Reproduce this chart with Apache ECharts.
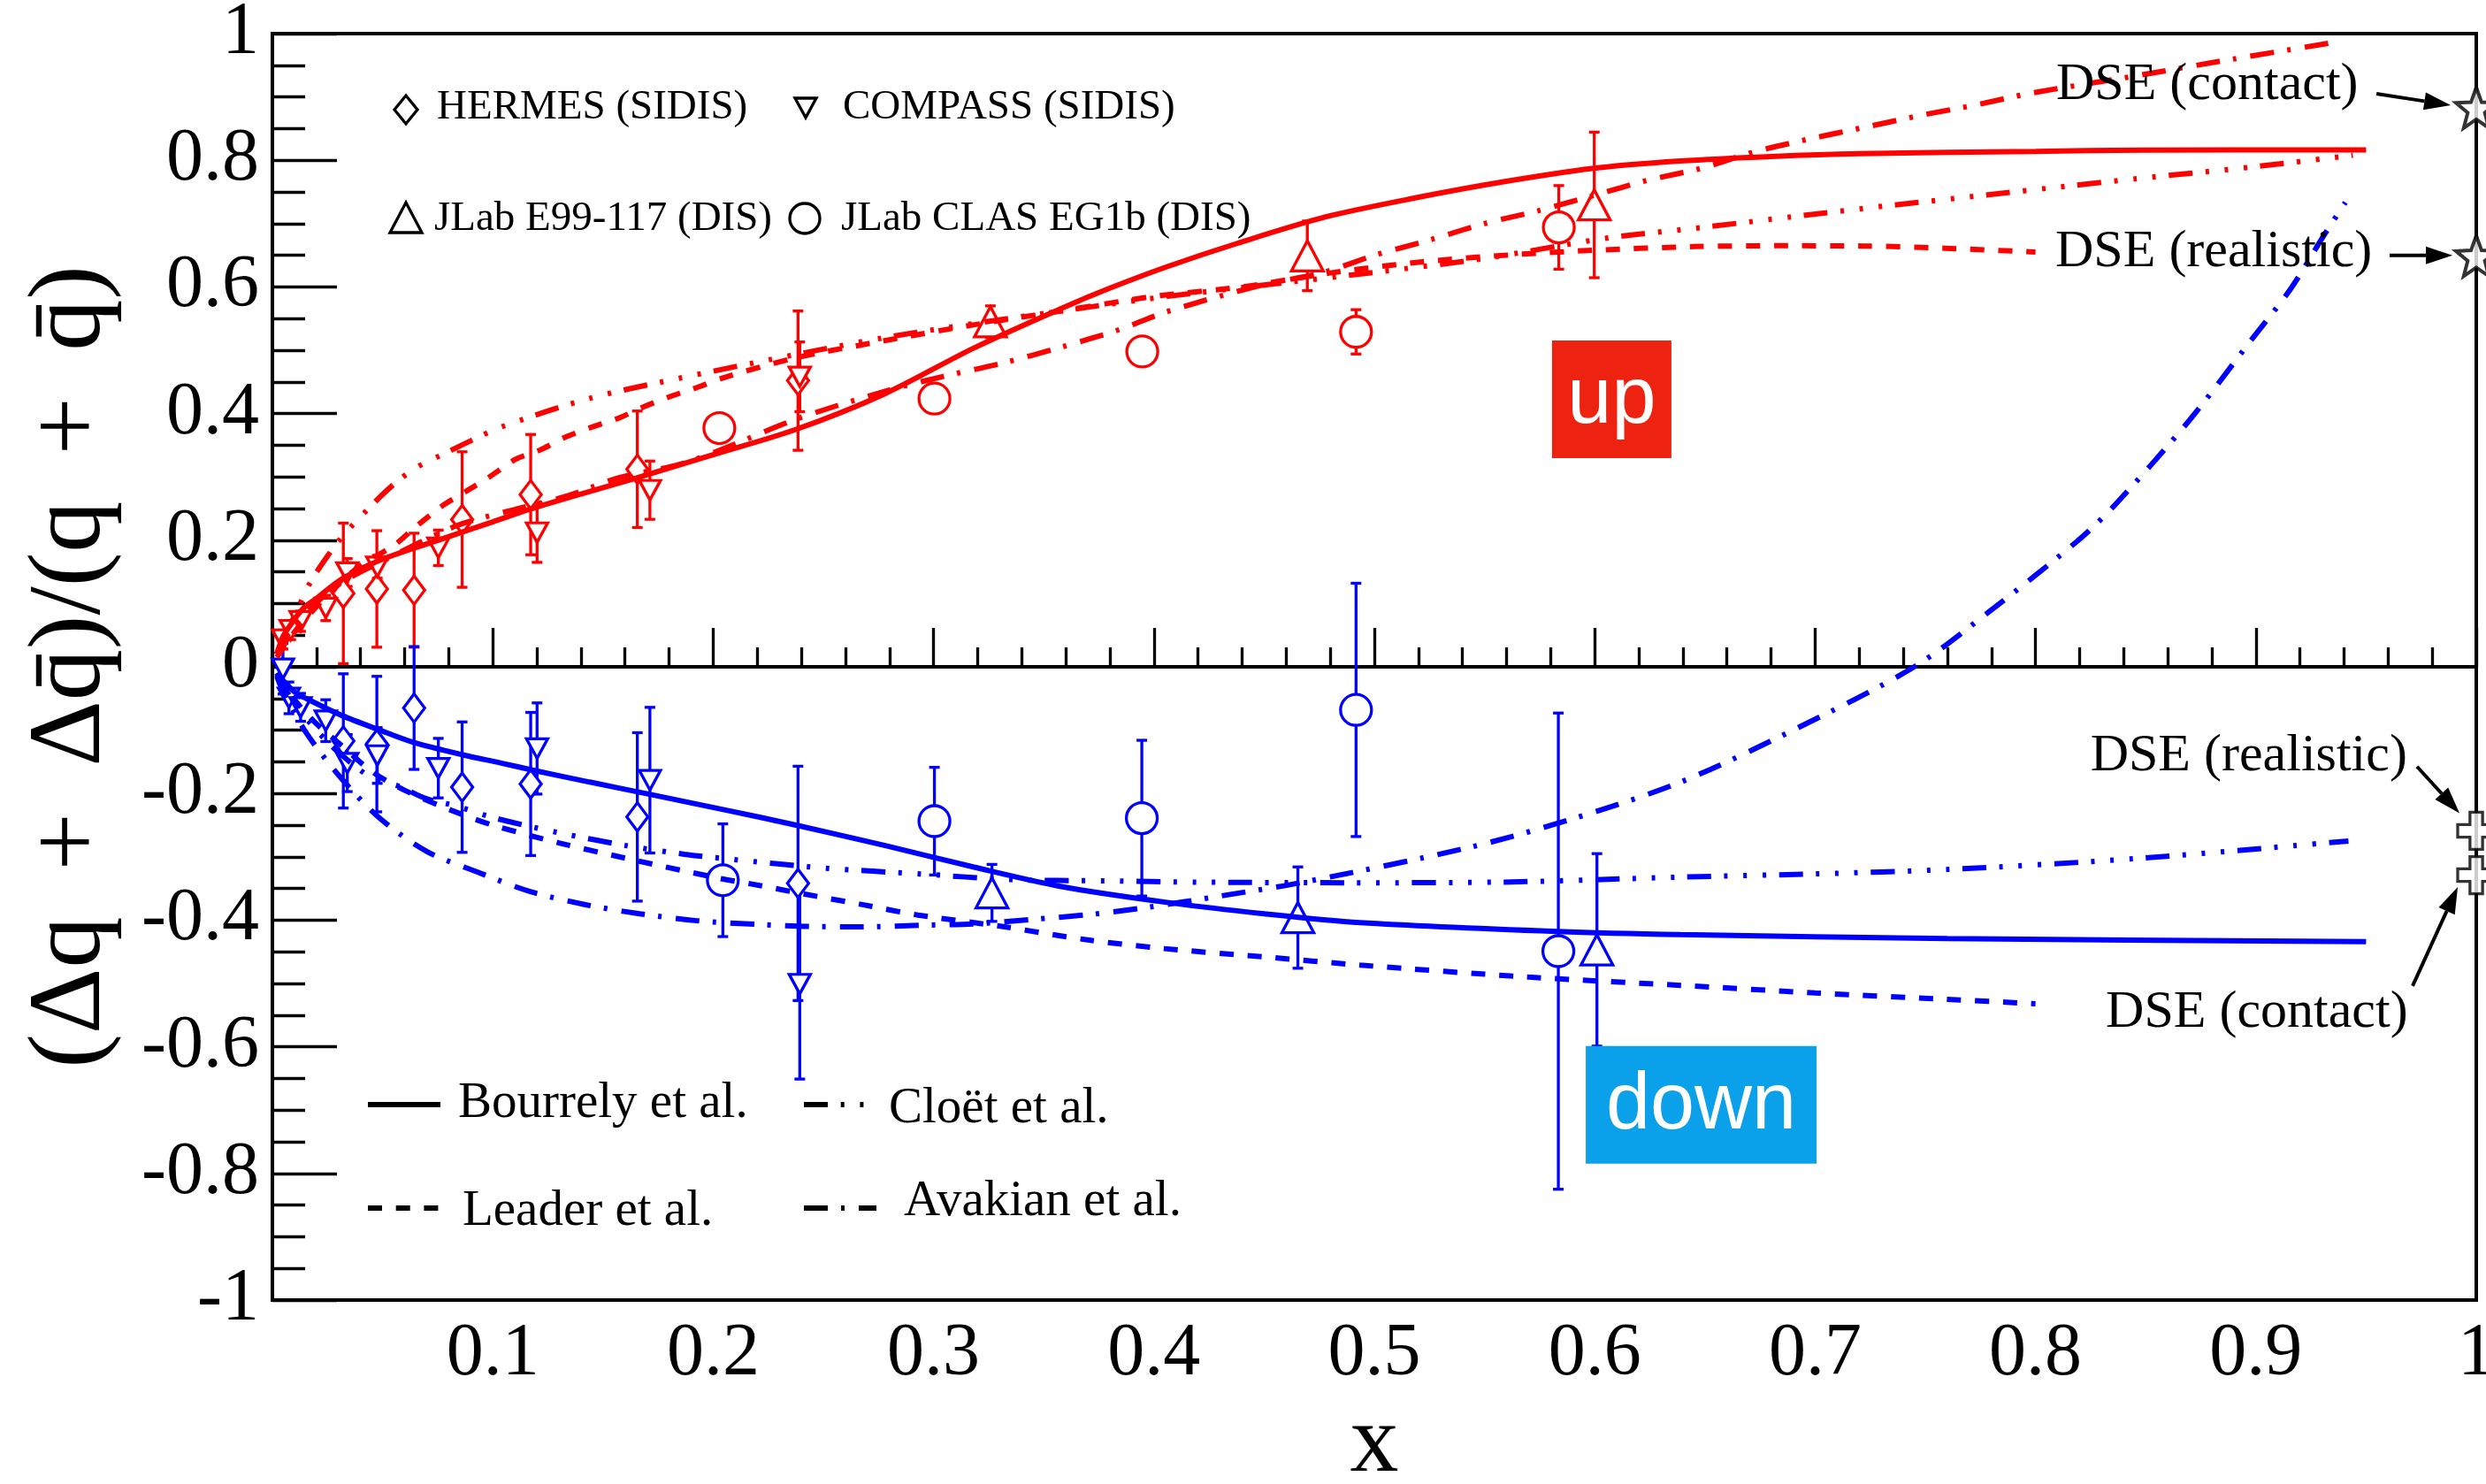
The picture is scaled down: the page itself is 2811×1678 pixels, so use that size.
<!DOCTYPE html>
<html>
<head>
<meta charset="utf-8">
<script src="https://cdn.jsdelivr.net/npm/echarts@6/dist/echarts.min.js"></script>
<style>
  html, body { margin: 0; padding: 0; background: #ffffff; }
  #chart { width: 2811px; height: 1678px; }
</style>
</head>
<body>
<div id="chart"></div>
<script>
// ---- Model curves: [x, (Δq+Δq̄)/(q+q̄)] ----
const bourrelyUp = [[0.002,0.02],[0.005,0.049],[0.01,0.075],[0.0142,0.093],[0.02,0.108],[0.0316,0.139],[0.05,0.17],[0.077,0.202],[0.1,0.229],[0.117,0.249],[0.14,0.273],[0.165,0.298],[0.2,0.335],[0.2376,0.375],[0.2777,0.431],[0.318,0.503],[0.358,0.566],[0.38,0.598],[0.406,0.632],[0.438,0.669],[0.478,0.7106],[0.5185,0.7405],[0.5586,0.766],[0.5987,0.787],[0.6388,0.7988],[0.68,0.806],[0.72,0.8104],[0.8,0.814],[0.8475,0.816],[0.95,0.8165]];
const cloetUp = [[0.002,0.02],[0.005,0.045],[0.01,0.08],[0.017,0.132],[0.025,0.175],[0.032,0.207],[0.045,0.255],[0.055,0.288],[0.065,0.314],[0.08,0.34],[0.09,0.357],[0.104,0.379],[0.144,0.424],[0.185,0.456],[0.24,0.495],[0.278,0.52],[0.318,0.542],[0.358,0.562],[0.406,0.585],[0.45,0.603],[0.5,0.623],[0.55,0.645],[0.6054,0.677],[0.6515,0.695],[0.69,0.711],[0.7325,0.728],[0.7746,0.744],[0.8167,0.76],[0.846,0.771],[0.9,0.79],[0.944,0.808]];
const leaderUp = [[0.002,0.015],[0.005,0.03],[0.01,0.055],[0.02,0.095],[0.03,0.13],[0.04,0.16],[0.0556,0.193],[0.065,0.221],[0.077,0.254],[0.0878,0.277],[0.0985,0.3],[0.1105,0.328],[0.1212,0.342],[0.1332,0.363],[0.1453,0.379],[0.1573,0.393],[0.168,0.41],[0.1814,0.428],[0.1934,0.442],[0.2041,0.456],[0.2376,0.488],[0.2777,0.515],[0.318,0.54],[0.358,0.562],[0.4,0.585],[0.44,0.6],[0.48,0.622],[0.52,0.639],[0.5619,0.6506],[0.6007,0.658],[0.645,0.6636],[0.683,0.665],[0.7217,0.6646],[0.759,0.661],[0.8,0.655]];
const avakianUp = [[0.002,0.02],[0.005,0.04],[0.01,0.065],[0.015,0.085],[0.03,0.13],[0.05,0.167],[0.0837,0.223],[0.1078,0.2466],[0.1339,0.27],[0.1573,0.2987],[0.184,0.319],[0.2014,0.34],[0.2376,0.391],[0.2777,0.435],[0.3044,0.4586],[0.3312,0.4795],[0.358,0.505],[0.3847,0.533],[0.406,0.561],[0.449,0.603],[0.4757,0.6217],[0.501,0.651],[0.525,0.674],[0.55,0.7],[0.5746,0.7205],[0.5994,0.7443],[0.6241,0.7685],[0.648,0.787],[0.672,0.8128],[0.6976,0.8338],[0.723,0.8524],[0.748,0.871],[0.7724,0.887],[0.798,0.906],[0.84,0.93],[0.89,0.96],[0.937,0.987]];

const bourrelyDown = [[0.002,-0.01],[0.005,-0.022],[0.0102,-0.04],[0.02,-0.058],[0.0316,-0.077],[0.048,-0.099],[0.0637,-0.119],[0.0863,-0.139],[0.1038,-0.152],[0.118,-0.163],[0.144,-0.182],[0.1707,-0.201],[0.2055,-0.226],[0.2376,-0.25],[0.2777,-0.282],[0.318,-0.316],[0.358,-0.347],[0.406,-0.372],[0.45,-0.39],[0.4935,-0.404],[0.583,-0.418],[0.639,-0.423],[0.76,-0.429],[0.95,-0.434]];
const cloetDown = [[0.002,-0.012],[0.005,-0.03],[0.01,-0.058],[0.02,-0.1],[0.03,-0.135],[0.045,-0.175],[0.0577,-0.189],[0.0696,-0.208],[0.0836,-0.22],[0.1,-0.238],[0.13,-0.262],[0.16,-0.282],[0.187,-0.296],[0.2055,-0.303],[0.251,-0.318],[0.294,-0.327],[0.335,-0.336],[0.378,-0.338],[0.42,-0.34],[0.49,-0.341],[0.557,-0.34],[0.64,-0.332],[0.7,-0.327],[0.76,-0.32],[0.845,-0.303],[0.942,-0.275]];
const leaderDown = [[0.002,-0.01],[0.005,-0.028],[0.01,-0.052],[0.02,-0.09],[0.03,-0.12],[0.045,-0.165],[0.06,-0.195],[0.08,-0.225],[0.1,-0.25],[0.13,-0.278],[0.16,-0.302],[0.2028,-0.334],[0.2175,-0.343],[0.2416,-0.359],[0.2677,-0.3755],[0.293,-0.392],[0.331,-0.41],[0.3686,-0.4306],[0.4048,-0.445],[0.45,-0.458],[0.4935,-0.471],[0.57,-0.49],[0.639,-0.503],[0.7,-0.515],[0.759,-0.525],[0.8,-0.532]];
const avakianDown = [[0.002,-0.015],[0.005,-0.04],[0.0155,-0.105],[0.031,-0.175],[0.049,-0.24],[0.0703,-0.292],[0.093,-0.324],[0.117,-0.355],[0.1426,-0.376],[0.1667,-0.39],[0.1927,-0.401],[0.222,-0.407],[0.244,-0.41],[0.268,-0.4105],[0.295,-0.408],[0.318,-0.406],[0.3446,-0.399],[0.3714,-0.391],[0.3967,-0.38],[0.43,-0.362],[0.468,-0.34],[0.5445,-0.284],[0.59,-0.24],[0.639,-0.182],[0.69,-0.1],[0.745,0.0],[0.78,0.09],[0.8188,0.198],[0.8355,0.2536],[0.87,0.39],[0.897,0.512],[0.9156,0.596],[0.931,0.682],[0.9406,0.7335]];

// ---- Measurements: [x, value, uncertainty] ----
const hermesUp = [[0.0322,0.116,0.111],[0.0474,0.123,0.092],[0.0643,0.121,0.09],[0.0861,0.2326,0.107],[0.1172,0.272,0.095],[0.1656,0.312,0.092],[0.2385,0.452,0.11]];
const hermesDown = [[0.0322,-0.117,0.106],[0.0474,-0.122,0.107],[0.0643,-0.065,0.097],[0.0861,-0.19,0.103],[0.1172,-0.185,0.113],[0.1656,-0.237,0.133],[0.2385,-0.342,0.185]];
const compassUp = [[0.0048,0.043,0.015],[0.0083,0.058,0.015],[0.0128,0.072,0.016],[0.0242,0.093,0.02],[0.034,0.149,0.022],[0.0476,0.158,0.018],[0.0753,0.188,0.028],[0.1201,0.212,0.047],[0.1713,0.279,0.046],[0.2393,0.458,0.055]];
const compassDown = [[0.0048,-0.003,0.04],[0.0075,-0.049,0.025],[0.0128,-0.064,0.022],[0.0242,-0.085,0.033],[0.034,-0.152,0.045],[0.0476,-0.14,0.044],[0.0753,-0.16,0.047],[0.1201,-0.129,0.072],[0.1713,-0.179,0.115],[0.2393,-0.501,0.15]];
const e99Up = [[0.3258,0.545,0.025],[0.4696,0.649,0.055],[0.5998,0.7295,0.115]];
const e99Down = [[0.3265,-0.357,0.045],[0.4653,-0.396,0.08],[0.601,-0.447,0.152]];
const clasUp = [[0.2028,0.377,0.015],[0.3004,0.4236,0.015],[0.3947,0.498,0.015],[0.4917,0.529,0.035],[0.5837,0.694,0.066]];
const clasDown = [[0.2044,-0.337,0.089],[0.3004,-0.2437,0.085],[0.3945,-0.239,0.123],[0.4917,-0.068,0.2],[0.5835,-0.449,0.376]];

// DSE predictions at x = 1
const dseUp = [[1, 0.883], [1, 0.649]];     // contact, realistic
const dseDown = [[1, -0.259], [1, -0.329]]; // realistic, contact

// Axis ranges and tick steps
const xRange = [0, 1], xStep = 0.1;
const yRange = [-1, 1], yStep = 0.2;

// Annotation anchors (data units)
const dseNotes = [
  { text: 'DSE (contact)',   at: [0.8094, 0.9185],  from: [0.9547, 0.905],  to: [0.9884, 0.887] },
  { text: 'DSE (realistic)', at: [0.809, 0.6553],   from: [0.9607, 0.6497], to: [0.9892, 0.6497] },
  { text: 'DSE (realistic)', at: [0.8249, -0.1418], from: [0.9731, -0.1575], to: [0.9924, -0.231] },
  { text: 'DSE (contact)',   at: [0.8319, -0.5469], from: [0.9711, -0.504], to: [0.9916, -0.3476] }
];
const flavourTags = [
  { text: 'up',   at: [0.6077, 0.4225],  w: 135, h: 133, color: '#ee2211' },
  { text: 'down', at: [0.6483, -0.6917], w: 261, h: 133, color: '#0aa0ea' }
];

// ---- Styling ----
const RED = '#ff0000', BLUE = '#0000ff', BLACK = '#000000';
const SERIF = '"Liberation Serif", "Times New Roman", "DejaVu Serif", serif';
const SANS = '"Liberation Sans", Arial, Helvetica, sans-serif';
const DASH = {
  bourrely: 'solid',
  cloet: [27, 14.7, 4, 17.7, 4, 17.7, 4, 14.7],
  leader: [16, 15.7],
  avakian: [27, 15, 4, 16]
};
const LW = 6, MARK_LW = 3.3;

function curve(data, color, dash) {
  return {
    type: 'line', data, showSymbol: false, smooth: 0.3, z: 5, silent: true,
    lineStyle: { color, width: LW, type: dash, cap: 'butt' }
  };
}
function errorBars(data, color) {
  return {
    type: 'custom', data, z: 2, silent: true, encode: { x: 0, y: 1 },
    renderItem(params, api) {
      const x = api.value(0), y = api.value(1), e = api.value(2);
      const a = api.coord([x, y + e]), b = api.coord([x, y - e]);
      const hw = 6, st = { stroke: color, lineWidth: MARK_LW };
      return {
        type: 'group', children: [
          { type: 'line', shape: { x1: a[0], y1: a[1], x2: b[0], y2: b[1] }, style: st },
          { type: 'line', shape: { x1: a[0] - hw, y1: a[1], x2: a[0] + hw, y2: a[1] }, style: st },
          { type: 'line', shape: { x1: b[0] - hw, y1: b[1], x2: b[0] + hw, y2: b[1] }, style: st }
        ]
      };
    }
  };
}
function markers(data, color, symbol, size, rotate) {
  return {
    type: 'scatter', data: data.map(d => [d[0], d[1]]), symbol, symbolSize: size,
    symbolRotate: rotate || 0, z: 3, silent: true, clip: false,
    itemStyle: { color: '#ffffff', borderColor: color, borderWidth: MARK_LW, opacity: 1 }
  };
}

// star and outlined-plus outlines
function starPath() {
  const pts = [];
  for (let k = 0; k < 10; k++) {
    const r = k % 2 === 0 ? 50 : 21;
    const ang = -Math.PI / 2 + k * Math.PI / 5;
    pts.push((50 + r * Math.cos(ang)).toFixed(2) + ',' + (50 + r * Math.sin(ang)).toFixed(2));
  }
  return 'path://M' + pts.join(' L') + ' Z';
}
const PLUS = 'path://M33,0 L67,0 L67,33 L100,33 L100,67 L67,67 L67,100 L33,100 L33,67 L0,67 L0,33 L33,33 Z';

const sets = [
  [hermesUp, hermesDown, 'diamond', [24, 32], 0],
  [compassUp, compassDown, 'triangle', [24, 22], 180],
  [e99Up, e99Down, 'triangle', [36, 34], 0],
  [clasUp, clasDown, 'circle', 35, 0]
];

const series = [
  { type: 'line', data: [[xRange[0], 0], [xRange[1], 0]], showSymbol: false, silent: true, z: 1,
    lineStyle: { color: BLACK, width: 3.3 } }
];
sets.forEach(s => {
  series.push(errorBars(s[0], RED), errorBars(s[1], BLUE));
  series.push(markers(s[0], RED, s[2], s[3], s[4]), markers(s[1], BLUE, s[2], s[3], s[4]));
});
series.push(
  curve(bourrelyUp, RED, DASH.bourrely), curve(cloetUp, RED, DASH.cloet),
  curve(leaderUp, RED, DASH.leader), curve(avakianUp, RED, DASH.avakian),
  curve(bourrelyDown, BLUE, DASH.bourrely), curve(cloetDown, BLUE, DASH.cloet),
  curve(leaderDown, BLUE, DASH.leader), curve(avakianDown, BLUE, DASH.avakian)
);
series.push(
  { type: 'scatter', data: dseUp, symbol: starPath(), symbolSize: 46, z: 6, clip: false, silent: true,
    itemStyle: { color: '#ffffff', borderColor: BLACK, borderWidth: 4 } },
  { type: 'scatter', data: dseDown, symbol: PLUS, symbolSize: 42, z: 6, clip: false, silent: true,
    itemStyle: { color: '#ffffff', borderColor: BLACK, borderWidth: 3.3 } }
);

const tickFmt = v => (Math.abs(v) < 1e-9 ? '0' : String(parseFloat(v.toFixed(1))));

const option = {
  animation: false,
  backgroundColor: '#ffffff',
  grid: { left: 308, right: 11, top: 38, bottom: 208, containLabel: false, outerBoundsMode: 'none',
    show: true, borderColor: BLACK, borderWidth: 4 },
  xAxis: {
    type: 'value', min: xRange[0], max: xRange[1], interval: xStep,
    name: 'x', nameLocation: 'middle', nameGap: 108,
    nameTextStyle: { fontFamily: SERIF, fontSize: 110, color: BLACK },
    axisLine: { show: true, lineStyle: { color: BLACK, width: 4 } },
    axisTick: { show: true, inside: true, length: 44, lineStyle: { color: BLACK, width: 3.3 } },
    minorTick: { show: true, splitNumber: 5, length: 22, lineStyle: { color: BLACK, width: 3.3 } },
    splitLine: { show: false },
    axisLabel: { fontFamily: SERIF, fontSize: 84, color: BLACK, margin: 20,
      formatter: v => (Math.abs(v) < 1e-9 ? '' : tickFmt(v)) }
  },
  yAxis: {
    type: 'value', min: yRange[0], max: yRange[1], interval: yStep,
    name: '(Δq\u2009 + \u2009Δq\u0304)/(q\u2009 + \u2009q\u0304)', nameLocation: 'middle', nameGap: 168, nameRotate: 90,
    nameTextStyle: { fontFamily: SERIF, fontSize: 116, color: BLACK },
    axisLine: { show: true, lineStyle: { color: BLACK, width: 4 } },
    axisTick: { show: true, inside: true, length: 73, lineStyle: { color: BLACK, width: 3.3 } },
    minorTick: { show: true, splitNumber: 4, length: 37, lineStyle: { color: BLACK, width: 3.3 } },
    splitLine: { show: false },
    axisLabel: { fontFamily: SERIF, fontSize: 84, color: BLACK, margin: 15, formatter: tickFmt }
  },
  series
};

const chart = echarts.init(document.getElementById('chart'));
chart.setOption(option);

// ---- Annotations, flavour tags and legends ----
const px = p => chart.convertToPixel({ gridIndex: 0 }, p);
function txt(text, x, y, size, family, color, align) {
  return { type: 'text', z: 20, silent: true,
    style: { text, x, y, font: 'normal ' + size + 'px ' + family, fill: color,
      textAlign: align || 'left', textVerticalAlign: 'middle', align: align || 'left', verticalAlign: 'middle' } };
}
function arrow(from, to) {
  const dx = to[0] - from[0], dy = to[1] - from[1], len = Math.hypot(dx, dy);
  const ux = dx / len, uy = dy / len, L = 30, W = 20;
  const bx = to[0] - ux * L, by = to[1] - uy * L;
  return [
    { type: 'line', z: 20, silent: true, shape: { x1: from[0], y1: from[1], x2: bx, y2: by },
      style: { stroke: BLACK, lineWidth: 4 } },
    { type: 'polygon', z: 20, silent: true,
      shape: { points: [[to[0], to[1]], [bx - uy * W / 2, by + ux * W / 2], [bx + uy * W / 2, by - ux * W / 2]] },
      style: { fill: BLACK } }
  ];
}

const g = [];
dseNotes.forEach(n => {
  const p = px(n.at);
  g.push(txt(n.text, p[0], p[1], 60, SERIF, BLACK));
  g.push(...arrow(px(n.from), px(n.to)));
});
flavourTags.forEach(t => {
  const c = px(t.at);
  g.push({ type: 'rect', z: 20, silent: true,
    shape: { x: c[0] - t.w / 2, y: c[1] - t.h / 2, width: t.w, height: t.h }, style: { fill: t.color } });
  g.push(txt(t.text, c[0], c[1] + 2, 90, SANS, '#ffffff', 'center'));
});

// experiment legend (symbols)
const mk = { fill: '#ffffff', stroke: BLACK, lineWidth: MARK_LW };
g.push({ type: 'polygon', z: 20, silent: true, shape: { points: [[459, 108], [472, 124], [459, 140], [446, 124]] }, style: mk });
g.push(txt('HERMES (SIDIS)', 494, 122, 47, SERIF, BLACK));
g.push({ type: 'polygon', z: 20, silent: true, shape: { points: [[899, 111], [923, 111], [911, 133]] }, style: mk });
g.push(txt('COMPASS (SIDIS)', 953, 122, 47, SERIF, BLACK));
g.push({ type: 'polygon', z: 20, silent: true, shape: { points: [[459, 229], [477, 263], [441, 263]] }, style: mk });
g.push(txt('JLab E99-117 (DIS)', 491, 247.5, 47, SERIF, BLACK));
g.push({ type: 'circle', z: 20, silent: true, shape: { cx: 910, cy: 247, r: 17 }, style: mk });
g.push(txt('JLab CLAS EG1b (DIS)', 951, 247.5, 47, SERIF, BLACK));

// model legend (line samples)
function sample(x1, x2, y, dash) {
  return { type: 'line', z: 20, silent: true, shape: { x1, y1: y, x2, y2: y },
    style: { stroke: BLACK, lineWidth: LW, lineDash: dash === 'solid' ? null : dash, lineCap: 'butt' } };
}
g.push(sample(416, 498, 1249, DASH.bourrely), txt('Bourrely et al.', 518, 1248, 57, SERIF, BLACK));
g.push(sample(909, 978, 1249, DASH.cloet), txt('Cloët et al.', 1005, 1254, 57, SERIF, BLACK));
g.push(sample(416, 498, 1366, DASH.leader), txt('Leader et al.', 523, 1370, 57, SERIF, BLACK));
g.push(sample(909, 991, 1366, DASH.avakian), txt('Avakian et al.', 1022, 1359, 57, SERIF, BLACK));

chart.setOption({ graphic: { elements: g } });
</script>
</body>
</html>
